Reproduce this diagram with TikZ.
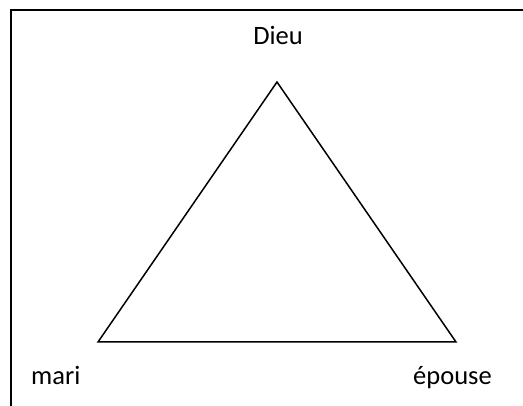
\documentclass[tikz,border=0pt]{standalone}
\usepackage{fontspec}
\setmainfont{Carlito}
\usetikzlibrary{positioning}

\begin{document}
\begin{tikzpicture}[x=1pt, y=-1pt,
  etiqueta/.style={inner sep=0pt, anchor=base, font=\fontsize{26.5}{30}\selectfont},
  lado/.style={line width=1.5pt, line join=miter},
  marco/.style={line width=2pt}
]
\useasboundingbox (0,0) rectangle (523,406);
% marco
\coordinate (m1) at (11,406);
\coordinate (m2) at (11,10.5);
\coordinate (m3) at (523,10.5);
\draw[marco] (m1) -- (m2) -- (m3);
% triangulo
\coordinate (dieu) at (277,82);
\coordinate (mari) at (98,342);
\coordinate (epouse) at (456,342);
\draw[lado] (dieu) -- (mari) -- (epouse) -- cycle;
\node[etiqueta] (tDieu) at (278,45) {Dieu};
\node[etiqueta, anchor=base west] (tMari) at (31,385) {mari};
\node[etiqueta, anchor=base west] (tEpouse) at (413,385) {épouse};
\end{tikzpicture}
\end{document}
